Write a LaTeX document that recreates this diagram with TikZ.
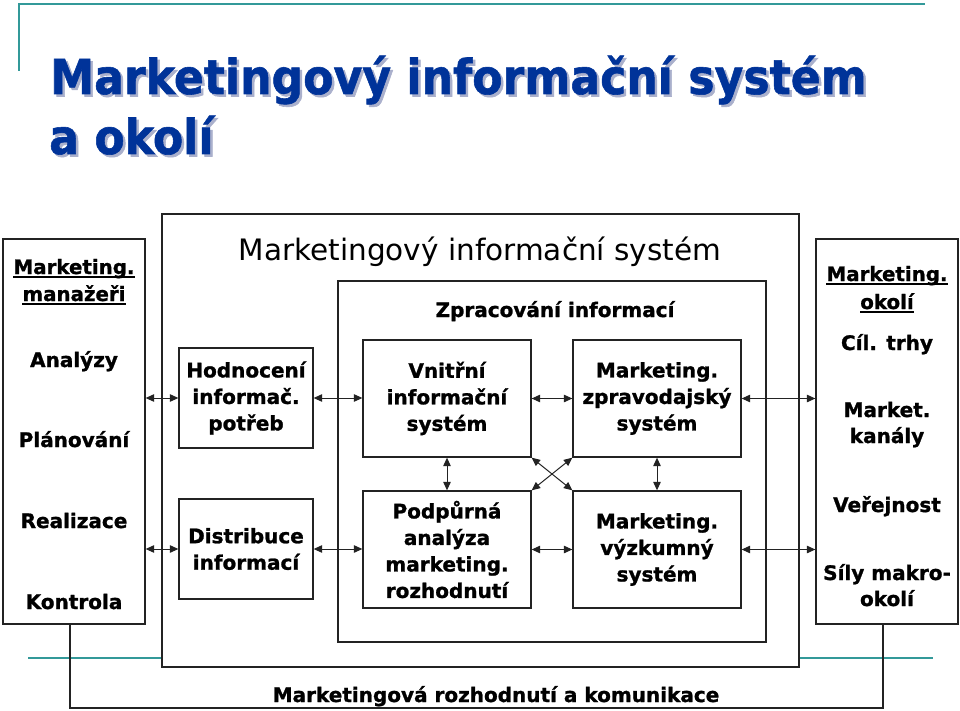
\documentclass[tikz,border=0pt]{standalone}
\usepackage{fontspec}
\setmainfont{DejaVu Sans}[BoldFeatures={FakeBold=1.2}]
\usetikzlibrary{arrows.meta}
\definecolor{tealc}{RGB}{51,153,153}
\definecolor{titleblue}{RGB}{0,51,153}
\definecolor{shadowc}{RGB}{170,176,204}
\definecolor{linec}{RGB}{35,35,35}
\newcommand\myboldfont{\fontsize{20}{26.5}\selectfont\bfseries}
\newcommand\myheadfont{\fontsize{19.8}{24}\selectfont\bfseries}
\newcommand\mytitlefont{\fontsize{48}{58}\selectfont\bfseries}
\tikzset{
  box/.style={draw=linec, line width=1.3pt, inner sep=0pt, align=center, font=\myboldfont},
  lbl/.style={inner sep=0pt, anchor=base, font=\myboldfont},
  hlbl/.style={inner sep=0pt, anchor=base, font=\myheadfont},
  dbl/.style={draw=linec, line width=1pt, {Triangle[length=8.5pt,width=7.5pt]}-{Triangle[length=8.5pt,width=7.5pt]}},
  conn/.style={draw=linec, line width=1.2pt},
  deco/.style={draw=tealc, line width=2.2pt},
  ttl/.style={inner sep=0pt, anchor=base west, font=\mytitlefont}
}
\begin{document}
\begin{tikzpicture}[x=1pt,y=-1pt]
\useasboundingbox (0,0) rectangle (960,711);
% decorative template lines
\draw[deco] (19,71) -- (19,4) -- (925,4);
\draw[deco] (28,658) -- (162,658);
\draw[deco] (799,658) -- (933,658);
% title with shadow
\node[ttl, text=shadowc] (s1) at (52.5,96.5) {\scalebox{0.92}[1]{Marketingový informační systém}};
\node[ttl, text=shadowc] (s2) at (51.5,156.5) {\scalebox{0.92}[1]{a okolí}};
\node[ttl, text=titleblue] (t1) at (50,94) {\scalebox{0.92}[1]{Marketingový informační systém}};
\node[ttl, text=titleblue] (t2) at (49,154) {\scalebox{0.92}[1]{a okolí}};
% big boxes
\node[box, minimum width=142, minimum height=385] (lbox) at (74,431.5) {};
\node[box, minimum width=142, minimum height=385] (rbox) at (887,431.5) {};
\node[box, minimum width=637, minimum height=453] (mis) at (480.5,440.5) {};
\node[box, minimum width=428, minimum height=361] (zp) at (552,461.5) {};
\node[inner sep=0pt, anchor=base, font=\fontsize{29.5}{34}\selectfont] (mist) at (480,260) {Marketingový informační systém};
\node[lbl] (zpt) at (555,317) {Zpracování informací};
% inner boxes
\node[box, minimum width=134, minimum height=100] (hod) at (246,398) {Hodnocení\\informač.\\potřeb};
\node[box, minimum width=134, minimum height=100] (dis) at (246,549) {Distribuce\\informací};
\node[box, minimum width=168, minimum height=117] (vni) at (447,398.5) {Vnitřní\\informační\\systém};
\node[box, minimum width=168, minimum height=117] (zpr) at (657,398.5) {Marketing.\\zpravodajský\\systém};
\node[box, minimum width=168, minimum height=117] (pod) at (447,549.5) {Podpůrná\\analýza\\marketing.\\rozhodnutí};
\node[box, minimum width=168, minimum height=117] (vyz) at (657,549.5) {Marketing.\\výzkumný\\systém};
% left box texts
\node[hlbl] (l1) at (74,274) {Marketing.};
\node[hlbl] (l2) at (74,301) {manažeři};
\draw[line width=1.4pt] ([yshift=-3pt]l1.base west) -- ([yshift=-3pt]l1.base east);
\draw[line width=1.4pt] ([yshift=-3pt]l2.base west) -- ([yshift=-3pt]l2.base east);
\node[lbl] (l3) at (74,367) {Analýzy};
\node[lbl] (l4) at (74,447) {Plánování};
\node[lbl] (l5) at (74,528) {Realizace};
\node[lbl] (l6) at (74,609) {Kontrola};
% right box texts
\node[hlbl] (r1) at (887,281) {Marketing.};
\node[hlbl] (r2) at (887,309) {okolí};
\draw[line width=1.4pt] ([yshift=-3pt]r1.base west) -- ([yshift=-3pt]r1.base east);
\draw[line width=1.4pt] ([yshift=-3pt]r2.base west) -- ([yshift=-3pt]r2.base east);
\node[lbl] (r3) at (887,350) {Cíl. trhy};
\node[lbl] (r4) at (887,417) {Market.};
\node[lbl] (r5) at (887,443) {kanály};
\node[lbl] (r6) at (887,512) {Veřejnost};
\node[lbl] (r7) at (887,580) {Síly makro-};
\node[lbl] (r8) at (887,606) {okolí};
% connectors
\draw[dbl] (lbox.east |- hod.west) -- (hod.west);
\draw[dbl] (lbox.east |- dis.west) -- (dis.west);
\draw[dbl] (hod.east) -- (hod.east -| vni.west);
\draw[dbl] (dis.east) -- (dis.east -| pod.west);
\draw[dbl] (vni.east) -- (zpr.west);
\draw[dbl] (pod.east) -- (vyz.west);
\draw[dbl] (zpr.east) -- (zpr.east -| rbox.west);
\draw[dbl] (vyz.east) -- (vyz.east -| rbox.west);
\draw[dbl] (vni.south) -- (pod.north);
\draw[dbl] (zpr.south) -- (vyz.north);
\draw[dbl] (vni.south east) -- (vyz.north west);
\draw[dbl] (zpr.south west) -- (pod.north east);
% bottom loop
\coordinate (bl) at (70,708);
\coordinate (br) at (883,708);
\draw[conn] (lbox.south -| bl) -- (bl) -- (br) -- (rbox.south -| br);
\node[lbl] (bot) at (496,702) {Marketingová rozhodnutí a komunikace};
\end{tikzpicture}
\end{document}
